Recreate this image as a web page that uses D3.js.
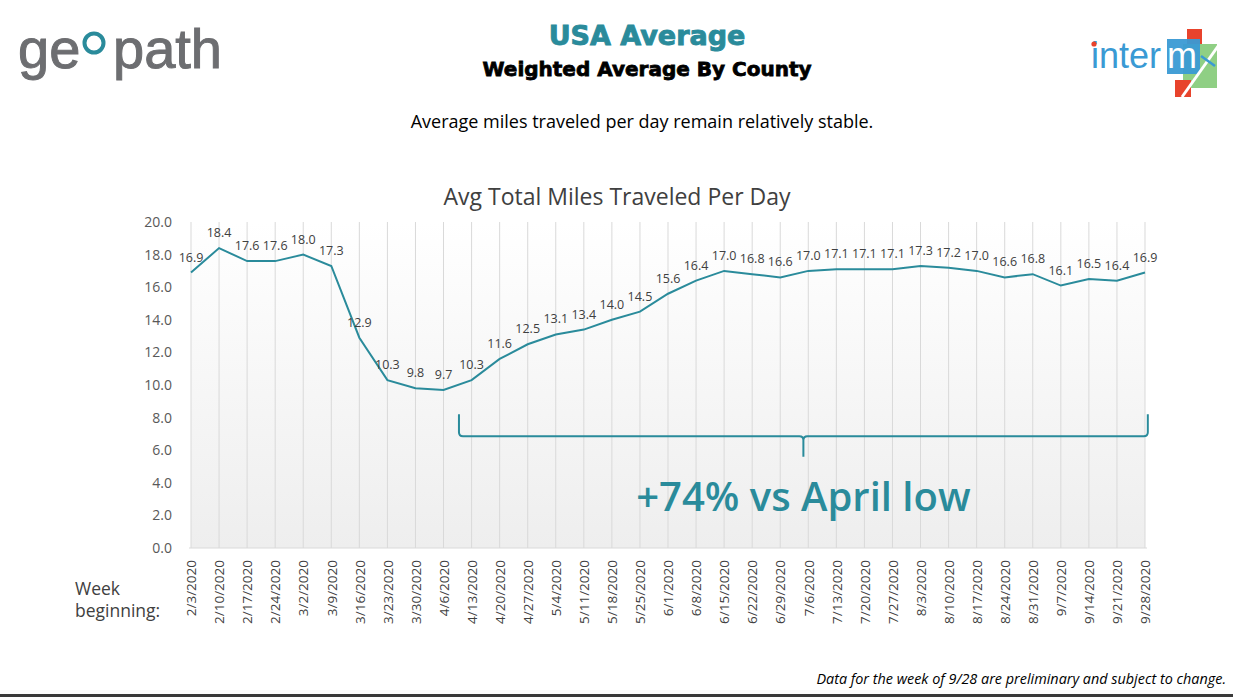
<!DOCTYPE html>
<html>
<head>
<meta charset="utf-8">
<script src="https://cdn.jsdelivr.net/npm/d3@7"></script>
<style>
  html, body { margin: 0; padding: 0; background: #fff; }
  svg { display: block; }
</style>
</head>
<body>
<script>
const weeks = ['2/3/2020', '2/10/2020', '2/17/2020', '2/24/2020', '3/2/2020', '3/9/2020', '3/16/2020',
    '3/23/2020', '3/30/2020', '4/6/2020', '4/13/2020', '4/20/2020', '4/27/2020', '5/4/2020', '5/11/2020',
    '5/18/2020', '5/25/2020', '6/1/2020', '6/8/2020', '6/15/2020', '6/22/2020', '6/29/2020', '7/6/2020',
    '7/13/2020', '7/20/2020', '7/27/2020', '8/3/2020', '8/10/2020', '8/17/2020', '8/24/2020', '8/31/2020',
    '9/7/2020', '9/14/2020', '9/21/2020', '9/28/2020']
const miles = [16.9, 18.4, 17.6, 17.6, 18.0, 17.3, 12.9, 10.3, 9.8, 9.7, 10.3, 11.6, 12.5, 13.1, 13.4,
    14.0, 14.5, 15.6, 16.4, 17.0, 16.8, 16.6, 17.0, 17.1, 17.1, 17.1, 17.3, 17.2, 17.0, 16.6, 16.8,
    16.1, 16.5, 16.4, 16.9]
const yTicks = [0, 2, 4, 6, 8, 10, 12, 14, 16, 18, 20]
const braceFrom = '4/6/2020'
const braceTo = '9/28/2020'
const braceLabel = '+74% vs April low'

const width = 1233
const height = 697
const teal = '#2a8b9b'
const textColor = '#404040'
const gridColor = '#d9d9d9'
const plotLeft = 191
const plotRight = 1145
const plotTop = 222
const plotBottom = 548

const svg = d3.select('body')
    .append('svg')
    .attr('width', width)
    .attr('height', height)

const x = d3.scalePoint()
    .domain(weeks)
    .range([plotLeft, plotRight])
const y = d3.scaleLinear()
    .domain([0, 20])
    .range([plotBottom, plotTop])
const step = x.step()

// plot background, white to light gray
const defs = svg.append('defs')
const grad = defs.append('linearGradient')
    .attr('id', 'plotfill')
    .attr('x1', 0).attr('y1', 0).attr('x2', 0).attr('y2', 1)
grad.append('stop').attr('offset', '0%').attr('stop-color', '#ffffff')
grad.append('stop').attr('offset', '100%').attr('stop-color', '#eeeeee')

svg.append('rect')
    .attr('x', plotLeft)
    .attr('y', y(20))
    .attr('width', plotRight - plotLeft)
    .attr('height', y(0) - y(20))
    .attr('fill', 'url(#plotfill)')

svg.append('g')
    .selectAll('line')
    .data(weeks)
    .enter()
    .append('line')
    .attr('x1', d => x(d))
    .attr('x2', d => x(d))
    .attr('y1', y(20))
    .attr('y2', y(0))
    .attr('stroke', gridColor)
    .attr('stroke-width', 1)

svg.append('line')
    .attr('x1', plotLeft - 2)
    .attr('x2', plotRight + 2)
    .attr('y1', y(0))
    .attr('y2', y(0))
    .attr('stroke', gridColor)
    .attr('stroke-width', 1.2)

// y axis labels
const yAxis = svg.append('g')
    .attr('transform', `translate(${plotLeft - 19},0)`)
    .call(d3.axisLeft(y).tickValues(yTicks).tickSize(0).tickFormat(d3.format('.1f')))
yAxis.select('.domain').remove()
yAxis.selectAll('text')
    .attr('fill', '#595959')
    .attr('font-family', 'Open Sans, sans-serif')
    .attr('font-size', 14)
    .attr('x', 0)

// x axis labels
const xAxis = svg.append('g')
    .attr('transform', `translate(0,${y(0)})`)
    .call(d3.axisBottom(x).tickSize(0))
xAxis.select('.domain').remove()
xAxis.selectAll('text')
    .attr('fill', textColor)
    .attr('font-family', 'Open Sans, sans-serif')
    .attr('font-size', 13.5)
    .attr('text-anchor', 'end')
    .attr('transform', 'rotate(-90)')
    .attr('x', -12)
    .attr('y', 0)
    .attr('dy', '0.35em')

// line
svg.append('path')
    .datum(miles)
    .attr('d', d3.line().x((d, i) => x(weeks[i])).y(d => y(d)))
    .attr('fill', 'none')
    .attr('stroke', teal)
    .attr('stroke-width', 2)

svg.append('g')
    .selectAll('text')
    .data(miles)
    .enter()
    .append('text')
    .attr('x', (d, i) => x(weeks[i]))
    .attr('y', d => y(d) - 11)
    .attr('text-anchor', 'middle')
    .attr('font-family', 'Open Sans, sans-serif')
    .attr('font-size', 12.5)
    .attr('fill', textColor)
    .text(d => d.toFixed(1))

// brace annotation
const bl = x(braceFrom) + 0.55 * step
const br = x(braceTo) + 0.1 * step
const bm = (bl + br) / 2
const bTop = y(8.2)
const bMid = y(6.85)
const bTip = y(5.6)
const r = 4
const brace = d3.path()
brace.moveTo(bl, bTop)
brace.lineTo(bl, bMid - r)
brace.quadraticCurveTo(bl, bMid, bl + r, bMid)
brace.lineTo(bm - r, bMid)
brace.quadraticCurveTo(bm, bMid, bm, bMid + r)
brace.lineTo(bm, bTip)
brace.moveTo(bm, bMid + r)
brace.quadraticCurveTo(bm, bMid, bm + r, bMid)
brace.lineTo(br - r, bMid)
brace.quadraticCurveTo(br, bMid, br, bMid - r)
brace.lineTo(br, bTop)
svg.append('path')
    .attr('d', brace.toString())
    .attr('fill', 'none')
    .attr('stroke', teal)
    .attr('stroke-width', 2)

svg.append('text')
    .attr('x', bm)
    .attr('y', y(2.3))
    .attr('text-anchor', 'middle')
    .attr('font-family', 'Open Sans, sans-serif')
    .attr('font-weight', 600)
    .attr('font-size', 40)
    .attr('fill', teal)
    .text(braceLabel)

// titles
svg.append('text')
    .attr('x', 647).attr('y', 45)
    .attr('text-anchor', 'middle')
    .attr('font-family', 'DejaVu Sans, sans-serif')
    .attr('font-weight', 'bold')
    .attr('font-size', 27)
    .attr('fill', teal)
    .attr('stroke', teal)
    .attr('stroke-width', 0.9)
    .text('USA Average')
svg.append('text')
    .attr('x', 647).attr('y', 76)
    .attr('text-anchor', 'middle')
    .attr('font-family', 'DejaVu Sans, sans-serif')
    .attr('font-weight', 'bold')
    .attr('font-size', 20)
    .attr('fill', '#000')
    .attr('stroke', '#000')
    .attr('stroke-width', 0.8)
    .text('Weighted Average By County')
svg.append('text')
    .attr('x', 642).attr('y', 128)
    .attr('text-anchor', 'middle')
    .attr('font-family', 'Open Sans, sans-serif')
    .attr('font-size', 18)
    .attr('fill', '#000')
    .text('Average miles traveled per day remain relatively stable.')
svg.append('text')
    .attr('x', 617).attr('y', 205)
    .attr('text-anchor', 'middle')
    .attr('font-family', 'Open Sans, sans-serif')
    .attr('font-size', 23)
    .attr('fill', textColor)
    .text('Avg Total Miles Traveled Per Day')

const wk = svg.append('text')
    .attr('font-family', 'Open Sans, sans-serif')
    .attr('font-size', 17.5)
    .attr('fill', textColor)
wk.append('tspan').attr('x', 75).attr('y', 595).text('Week')
wk.append('tspan').attr('x', 75).attr('y', 617).text('beginning:')

svg.append('text')
    .attr('x', 1226).attr('y', 684)
    .attr('text-anchor', 'end')
    .attr('font-family', 'Open Sans, sans-serif')
    .attr('font-style', 'italic')
    .attr('font-size', 14.4)
    .attr('fill', '#000')
    .text('Data for the week of 9/28 are preliminary and subject to change.')

svg.append('rect')
    .attr('x', 0).attr('y', 694)
    .attr('width', width).attr('height', 3)
    .attr('fill', '#3a3a3a')

// geopath logo
const geo = svg.append('g')
    .attr('font-family', 'Liberation Sans, Arial, sans-serif')
    .attr('font-size', 56)
    .attr('fill', '#6d6e71')
    .attr('stroke', '#6d6e71')
    .attr('stroke-width', 1)
geo.append('text').attr('x', 18).attr('y', 68).text('ge')
geo.append('text').attr('x', 113).attr('y', 68).text('path')
svg.append('circle')
    .attr('cx', 94).attr('cy', 43).attr('r', 9.5)
    .attr('fill', 'none')
    .attr('stroke', teal)
    .attr('stroke-width', 4)

// intermx logo
const im = svg.append('g')
im.append('text')
    .attr('x', 1091).attr('y', 68)
    .attr('font-family', 'Liberation Sans, Arial, sans-serif')
    .attr('font-size', 36)
    .attr('fill', '#3a9ad4')
    .text('inter')
im.append('rect').attr('x', 1187).attr('y', 29).attr('width', 15).attr('height', 18).attr('fill', '#e8432c')
im.append('rect').attr('x', 1183).attr('y', 44).attr('width', 34).attr('height', 44).attr('fill', '#8fcf84')
im.append('rect').attr('x', 1167).attr('y', 39).attr('width', 33).attr('height', 35).attr('fill', '#3a9ad4').attr('opacity', 0.95)
im.append('rect').attr('x', 1175).attr('y', 80).attr('width', 16).attr('height', 17).attr('fill', '#e8432c')
im.append('text')
    .attr('x', 1167).attr('y', 68)
    .attr('font-family', 'Liberation Sans, Arial, sans-serif')
    .attr('font-size', 36)
    .attr('fill', '#ffffff')
    .text('m')
im.append('line')
    .attr('x1', 1221).attr('y1', 42).attr('x2', 1182).attr('y2', 97)
    .attr('stroke', '#ffffff').attr('stroke-width', 3)
im.append('line')
    .attr('x1', 1201).attr('y1', 56).attr('x2', 1215).attr('y2', 66)
    .attr('stroke', '#3a9ad4').attr('stroke-width', 2.5)
im.append('circle').attr('cx', 1094).attr('cy', 44).attr('r', 2.6).attr('fill', '#e8432c')
</script>
</body>
</html>
